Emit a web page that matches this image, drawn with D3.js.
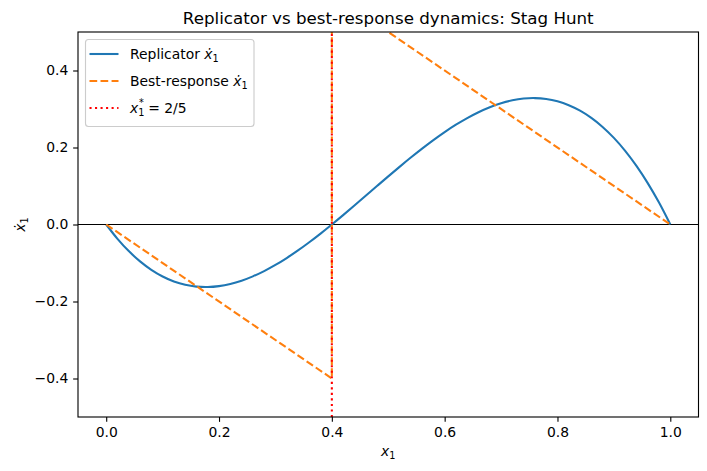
<!DOCTYPE html>
<html><head><meta charset="utf-8">
<script src="https://cdn.jsdelivr.net/npm/d3@7"></script>
<style>body{margin:0;background:#fff}svg{display:block}text{font-family:"DejaVu Sans",sans-serif}</style>
</head><body><svg id="c" width="707" height="471"></svg>
<script>
const xGrid = [0,0.02,0.04,0.06,0.08,0.10,0.12,0.14,0.16,0.18,0.20,0.22,0.24,0.26,0.28,0.30,0.32,0.34,0.36,0.38,0.40,0.42,0.44,0.46,0.48,0.50,0.52,0.54,0.56,0.58,0.60,0.62,0.64,0.66,0.68,0.70,0.72,0.74,0.76,0.78,0.80,0.82,0.84,0.86,0.88,0.90,0.92,0.94,0.96,0.98,1.00];
const replicator = [0,-0.03724,-0.06912,-0.09588,-0.11776,-0.135,-0.14784,-0.15652,-0.16128,-0.16236,-0.16,-0.15444,-0.14592,-0.13468,-0.12096,-0.105,-0.08704,-0.06732,-0.04608,-0.02356,0,0.02436,0.04928,0.07452,0.09984,0.125,0.14976,0.17388,0.19712,0.21924,0.24,0.25916,0.27648,0.29172,0.30464,0.315,0.32256,0.32708,0.32832,0.32604,0.32,0.30996,0.29568,0.27692,0.25344,0.225,0.19136,0.15228,0.10752,0.05684,0];
const brX = [0,0.4,0.4,1.0];
const brY = [0,-0.4,0.6,0];
const xStar = 0.4;
const xTicks = [0.0,0.2,0.4,0.6,0.8,1.0];
const yTicks = [-0.4,-0.2,0.0,0.2,0.4];

const svg = d3.select("#c");
const L=78, R=698.5, T=32, B=417;
const FS=13.9, LW=2.08;
const x = d3.scaleLinear().domain([-0.05,1.05]).range([L,R]);
const y = d3.scaleLinear().domain([-0.5,0.5]).range([B,T]);

svg.append("defs").append("clipPath").attr("id","clip").append("rect")
  .attr("x",L).attr("y",T).attr("width",R-L).attr("height",B-T);

const g = svg.append("g").attr("clip-path","url(#clip)");
g.append("line").attr("x1",L).attr("x2",R).attr("y1",y(0)).attr("y2",y(0))
  .attr("stroke","#000").attr("stroke-width",1.11);

g.append("path").datum(xGrid.map((v,i)=>[v,replicator[i]]))
  .attr("d",d3.line().x(d=>x(d[0])).y(d=>y(d[1])).curve(d3.curveCatmullRom)).attr("fill","none")
  .attr("stroke","#1f77b4").attr("stroke-width",LW);
g.append("path").datum(brX.map((v,i)=>[v,brY[i]]))
  .attr("d",d3.line().x(d=>x(d[0])).y(d=>y(d[1]))).attr("fill","none")
  .attr("stroke","#ff7f0e").attr("stroke-width",LW).attr("stroke-dasharray","7.7,3.33");
g.append("line").attr("x1",x(xStar)).attr("x2",x(xStar)).attr("y1",B).attr("y2",T)
  .attr("stroke","red").attr("stroke-width",LW).attr("stroke-dasharray","2.08,3.44");

// axes
const xa = svg.append("g").attr("transform",`translate(0,${B})`)
  .call(d3.axisBottom(x).tickValues(xTicks).tickFormat(d3.format(".1f")).tickSizeOuter(0).tickSize(4.86).tickPadding(4.86));
const ya = svg.append("g").attr("transform",`translate(${L},0)`)
  .call(d3.axisLeft(y).tickValues(yTicks).tickFormat(d=>d3.format(".1f")(d).replace("-","\u2212")).tickSizeOuter(0).tickSize(4.86).tickPadding(4.86));
[xa,ya].forEach(a=>{a.select(".domain").remove();a.selectAll("text").attr("font-size",FS).attr("fill","#000").style("font-family","DejaVu Sans");a.selectAll("line").attr("stroke","#000").attr("stroke-width",1.11);});
svg.append("rect").attr("x",L).attr("y",T).attr("width",R-L).attr("height",B-T)
  .attr("fill","none").attr("stroke","#000").attr("stroke-width",1.11);

// title & labels
svg.append("text").attr("x",(L+R)/2).attr("y",24).attr("text-anchor","middle").attr("font-size",16.7)
  .text("Replicator vs best-response dynamics: Stag Hunt");
const xl = svg.append("text").attr("x",(L+R)/2).attr("y",456).attr("text-anchor","middle").attr("font-size",FS);
xl.append("tspan").attr("font-style","italic").text("x");
xl.append("tspan").attr("font-size",9.7).attr("dy",3).text("1");
const yl = svg.append("text").attr("transform",`translate(25,${(T+B)/2}) rotate(-90)`).attr("text-anchor","middle").attr("font-size",FS);
yl.append("tspan").attr("font-style","italic").text("x\u0307");
yl.append("tspan").attr("font-size",9.7).attr("dy",3).text("1");

// legend
const lg = svg.append("g");
lg.append("rect").attr("x",85.5).attr("y",39.5).attr("width",168.5).attr("height",87).attr("rx",3)
  .attr("fill","#fff").attr("fill-opacity",0.8).attr("stroke","#ccc").attr("stroke-width",1.11);
const items = [
  {c:"#1f77b4",dash:null,label:["Replicator ","x\u0307"],sub:"1"},
  {c:"#ff7f0e",dash:"7.7,3.33",label:["Best-response ","x\u0307"],sub:"1"},
  {c:"red",dash:"2.08,3.44",label:["","x"],sub:"1",star:true}
];
items.forEach((it,i)=>{
  const yy = 54+i*27;
  lg.append("line").attr("x1",89.5).attr("x2",118.5).attr("y1",yy).attr("y2",yy)
    .attr("stroke",it.c).attr("stroke-width",LW).attr("stroke-dasharray",it.dash);
  const t = lg.append("text").attr("x",130).attr("y",yy+5).attr("font-size",FS);
  t.append("tspan").text(it.label[0]);
  t.append("tspan").attr("font-style","italic").text(it.label[1]);
  if(it.star){
    t.append("tspan").attr("font-size",9.7).attr("dy",3).text("1");
    t.append("tspan").attr("font-size",9.7).attr("dx",-5.5).attr("dy",-10).text("*");
    t.append("tspan").attr("dy",7).text(" = 2/5");
  } else {
    t.append("tspan").attr("font-size",9.7).attr("dy",3).text(it.sub);
  }
});
</script></body></html>
